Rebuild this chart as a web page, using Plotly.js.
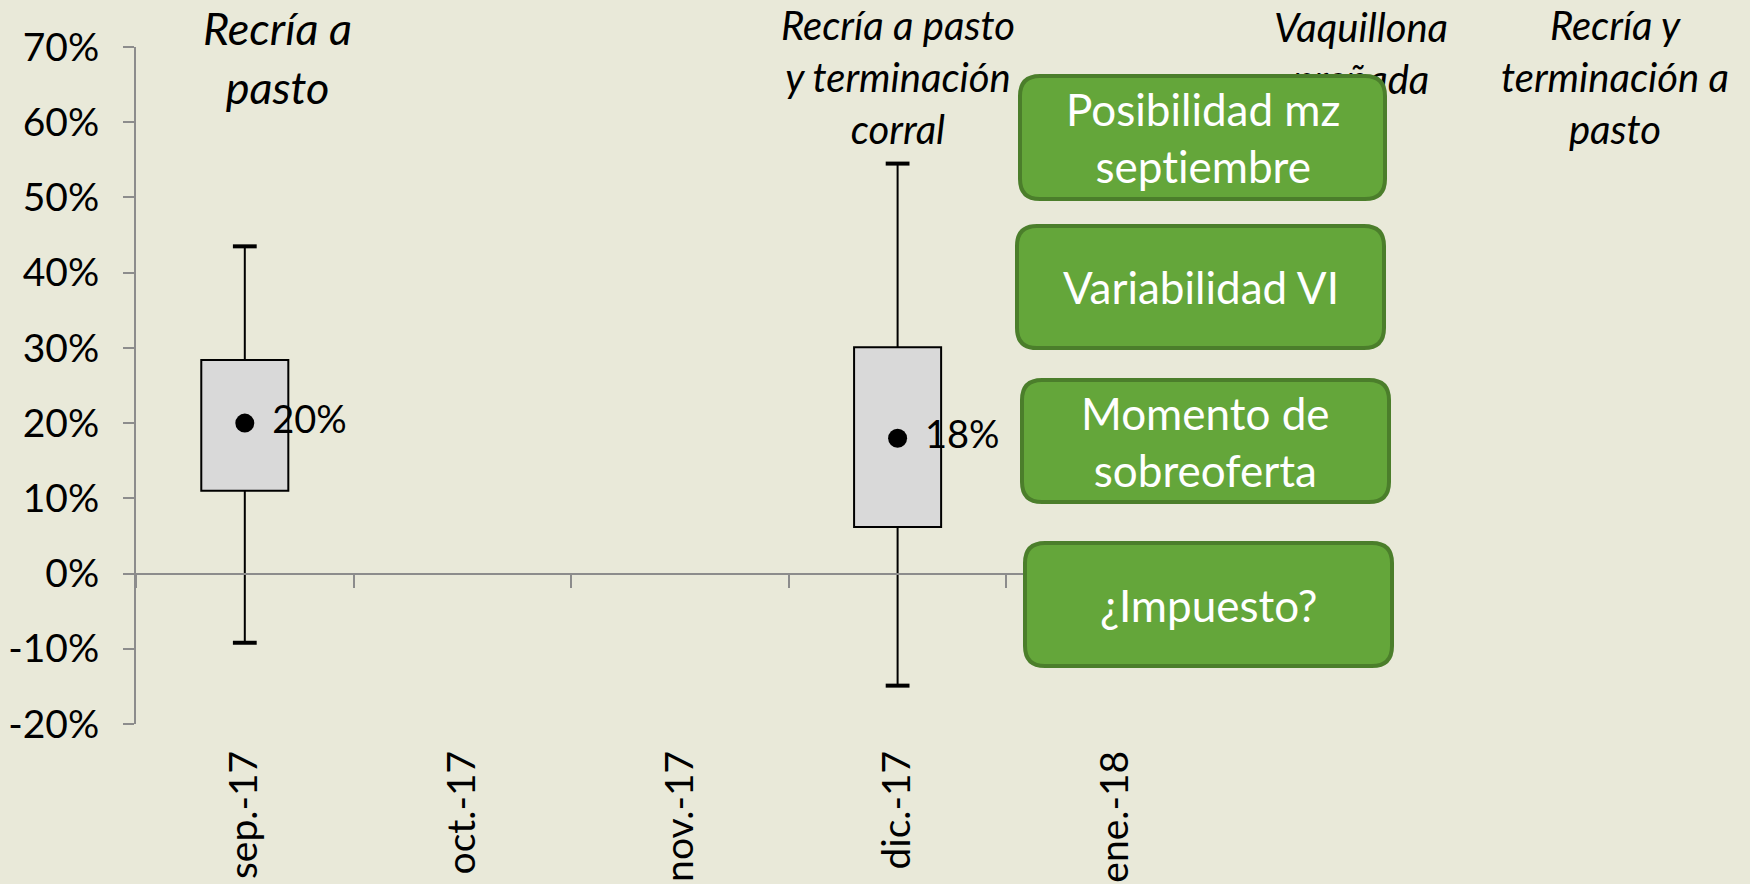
<!DOCTYPE html>
<html>
<head>
<meta charset="utf-8">
<script src="https://cdn.plot.ly/plotly-3.0.1.min.js"></script>
<style>
  html, body { margin: 0; padding: 0; background: #e9e9d9; }
  text { font-variant-ligatures: none; font-feature-settings: "liga" 0; }
</style>
</head>
<body>
<div id="chart" style="width:1750px;height:884px;"></div>
<script>
// categories on the x axis
const categories = ['sep.-17', 'oct.-17', 'nov.-17', 'dic.-17', 'ene.-18']
// the two months that have a box
const boxCats = ['sep.-17', 'dic.-17']
const lowerWhisker = [-0.092, -0.149]
const q1 = [0.110, 0.062]
const q3 = [0.284, 0.301]
const upperWhisker = [0.435, 0.545]
const center = [0.20, 0.18]

const yTickVals = [-0.2, -0.1, 0, 0.1, 0.2, 0.3, 0.4, 0.5, 0.6, 0.7]
const yTickText = ['-20%', '-10%', '0%', '10%', '20%', '30%', '40%', '50%', '60%', '70%']
const yRange = [-0.2, 0.7]

const titles = ['Recría a<br>pasto', 'Recría a pasto<br>y terminación<br>corral', 'Recría y<br>terminación a<br>pasto']
const hiddenTitle = 'Vaquillona<br>preñada'
const callouts = ['Posibilidad mz<br>septiembre', 'Variabilidad VI', 'Momento de<br>sobreoferta', '¿Impuesto?']

// plot area in pixels
const L = 136, T = 47, W = 1088, H = 677
const px = (x) => (x - L) / W
const py = (y) => (T + H - y) / H

const font = 'Lato, "Open Sans", sans-serif'
const green = '#64a63a'
const greenEdge = '#4b7e2b'
const axisGrey = '#8c8c8c'

function roundRect (x0, y0, x1, y1, r) {
  const X = px, Y = py
  return `M${X(x0 + r)},${Y(y0)} L${X(x1 - r)},${Y(y0)} Q${X(x1)},${Y(y0)} ${X(x1)},${Y(y0 + r)} ` +
    `L${X(x1)},${Y(y1 - r)} Q${X(x1)},${Y(y1)} ${X(x1 - r)},${Y(y1)} ` +
    `L${X(x0 + r)},${Y(y1)} Q${X(x0)},${Y(y1)} ${X(x0)},${Y(y1 - r)} ` +
    `L${X(x0)},${Y(y0 + r)} Q${X(x0)},${Y(y0)} ${X(x0 + r)},${Y(y0)} Z`
}

const boxTrace = {
  type: 'bar',
  x: boxCats,
  base: q1,
  y: q3.map((v, i) => v - q1[i]),
  width: 0.4,
  marker: {color: '#d9d9d9', line: {color: '#000', width: 2}},
  hoverinfo: 'skip'
}
const upperTrace = {
  type: 'scatter', mode: 'markers', x: boxCats, y: q3,
  marker: {size: 1, opacity: 0},
  error_y: {type: 'data', symmetric: false, array: upperWhisker.map((v, i) => v - q3[i]), arrayminus: q3.map(() => 0), width: 0, thickness: 2, color: '#000'},
  hoverinfo: 'skip'
}
const lowerTrace = {
  type: 'scatter', mode: 'markers', x: boxCats, y: q1,
  marker: {size: 1, opacity: 0},
  error_y: {type: 'data', symmetric: false, array: q1.map(() => 0), arrayminus: q1.map((v, i) => v - lowerWhisker[i]), width: 0, thickness: 2, color: '#000'},
  hoverinfo: 'skip'
}
const capTrace = {
  type: 'scatter', mode: 'markers',
  x: boxCats.concat(boxCats),
  y: upperWhisker.concat(lowerWhisker),
  marker: {symbol: 'line-ew', size: 17, line: {color: '#000', width: 4}},
  hoverinfo: 'skip'
}
const centerTrace = {
  type: 'scatter', mode: 'markers+text', x: boxCats, y: center,
  marker: {size: 19, color: '#000'},
  texttemplate: '\u00a0\u2009%{y:.0%}',
  textposition: 'middle right',
  textfont: {family: font, size: 38, color: '#000'},
  hoverinfo: 'skip'
}
// helper so the zero-line axis knows its categories
const zeroAxisTrace = {
  type: 'scatter', mode: 'markers', x: categories, y: categories.map(() => null),
  xaxis: 'x2', hoverinfo: 'skip'
}

const titleAnn = (text, x, y, size) => ({
  text, x: px(x), y: py(y), xref: 'paper', yref: 'paper',
  xanchor: 'center', yanchor: 'middle', showarrow: false,
  font: {family: font, size, color: '#000', style: 'italic'}
})

const titleSpots = [[277, 57, 45], [898, 77, 40], [1615, 77, 40]]
const boxSpots = [[1020, 76, 1385, 199], [1017, 226, 1384, 348], [1022, 380, 1389, 502], [1025, 543, 1392, 666]]

const annotations = titles.map((t, i) => titleAnn(t, ...titleSpots[i]))
  .concat(callouts.map((t, i) => {
    const [x0, y0, x1, y1] = boxSpots[i]
    return {
      text: t, x: px((x0 + x1) / 2), y: py((y0 + y1) / 2), xref: 'paper', yref: 'paper',
      xanchor: 'center', yanchor: 'middle', showarrow: false,
      font: {family: font, size: 44, color: '#fff'}
    }
  }))

const shapes = [{
  type: 'rect', xref: 'paper', yref: 'paper', layer: 'above',
  x0: px(1260), x1: px(1462), y0: py(2), y1: py(102),
  line: {width: 0}, fillcolor: 'rgba(0,0,0,0)',
  label: {text: hiddenTitle, textposition: 'middle center', font: {family: font, size: 40, color: '#000', style: 'italic'}}
}].concat(boxSpots.map(([x0, y0, x1, y1]) => ({
  type: 'path', xref: 'paper', yref: 'paper', layer: 'above',
  path: roundRect(x0, y0, x1, y1, 20),
  fillcolor: green, line: {color: greenEdge, width: 4}
})))

const layout = {
  width: 1750, height: 884,
  margin: {l: L, r: 1750 - L - W, t: T, b: 884 - T - H, pad: 0},
  paper_bgcolor: '#e9e9d9', plot_bgcolor: '#e9e9d9',
  showlegend: false,
  font: {family: font, color: '#000'},
  xaxis: {
    type: 'category', categoryorder: 'array', categoryarray: categories,
    range: [-0.5, categories.length - 0.5],
    showline: false, showgrid: false, zeroline: false, ticks: '',
    tickangle: -90, tickfont: {family: font, size: 39, color: '#000'},
    ticklabelstandoff: 18
  },
  xaxis2: {
    type: 'category', categoryorder: 'array', categoryarray: categories,
    range: [-0.5, categories.length - 0.5],
    overlaying: 'x', anchor: 'free', side: 'bottom',
    position: (0 - yRange[0]) / (yRange[1] - yRange[0]),
    showline: true, linecolor: axisGrey, linewidth: 2,
    ticks: 'outside', tickson: 'boundaries', ticklen: 13, tickwidth: 2, tickcolor: axisGrey,
    showticklabels: false, showgrid: false, zeroline: false
  },
  yaxis: {
    range: yRange, tickvals: yTickVals, ticktext: yTickText,
    showline: true, linecolor: axisGrey, linewidth: 2,
    ticks: 'outside', ticklen: 11, tickwidth: 2, tickcolor: axisGrey,
    showgrid: false, zeroline: false,
    tickfont: {family: font, size: 39, color: '#000'},
    ticklabelstandoff: 16
  },
  annotations,
  shapes
}

Plotly.newPlot('chart', [boxTrace, upperTrace, lowerTrace, capTrace, centerTrace, zeroAxisTrace], layout, {displayModeBar: false, staticPlot: true})
</script>
</body>
</html>
